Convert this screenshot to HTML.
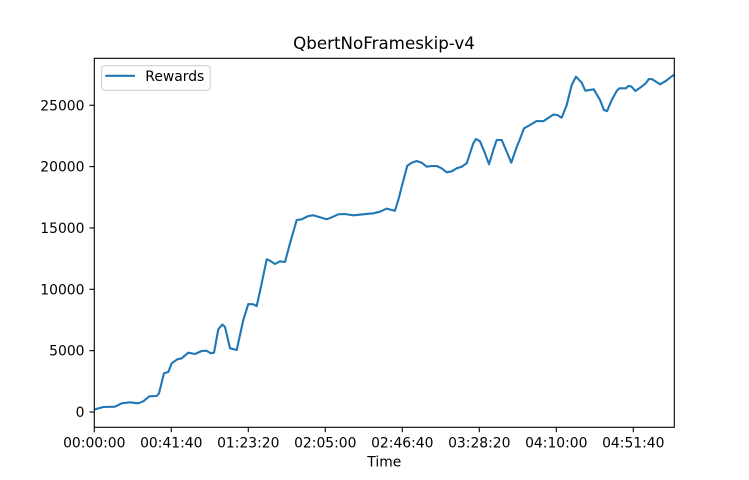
<!DOCTYPE html>
<html>
<head>
<meta charset="utf-8">
<style>
html,body{margin:0;padding:0;background:#fff;}
svg{display:block;}
text{font-family:"DejaVu Sans","Liberation Sans",sans-serif;fill:#000;}
</style>
</head>
<body>
<svg width="749" height="480" viewBox="0 0 749 480" xmlns="http://www.w3.org/2000/svg">
<rect x="0" y="0" width="749" height="480" fill="#fff"/>
<!-- data line -->
<polyline fill="none" stroke="#1f77b4" stroke-width="2.1" stroke-linejoin="round" stroke-linecap="butt" points="
94.5,409.5 103.3,407 115,406.7 121.7,403.3 130,402.3 138.3,403.3 143.3,401.3 149.3,396.3 156.7,396 159,393.3 164,373.3 168.3,372 171.7,363.3 177.3,359.3 181.7,358.3 188.3,352.7 195,354 201.7,351 206.7,350.7 210.7,353.3 214,352.7 218.3,329.3 222.3,324.5 225,327 230,348.3 236.7,350 243.3,320 248.3,304 253.3,304.3 256.7,306 261.7,283.3 266.7,259.3 270,260.7 275,264 280,261.3 285,262 290,243.3 296.7,220 301.7,219.3 308.3,216 313.3,215.3 320,217.3 326.7,219.3 331.7,217.3 338.3,214.3 345,214 353.3,215.3 363.3,214.3 373.3,213.3 380,211.7 386.7,208.6 391.7,210 395,210.7 398.3,200 401.7,186.7 407.3,165.7 411.7,162.7 416.7,161 421.7,162.7 426.7,166.7 431.7,166 436.7,166 441.7,168.3 446.7,172.3 451.7,171.3 456.7,168.3 461.7,166.7 466.7,163.3 470,153.3 473.3,143.3 476,139 480,141.3 485,153.3 489,164.3 493.3,150 496.7,140 501.7,140 506.7,151.7 511.3,162.7 516.7,147 520,139 524,128.3 530,125 536.7,121 543.3,121.2 553.3,114.6 557.3,115 561.7,117.7 566.7,105 571.7,85 576,76.7 581.7,82.7 585.3,90.7 593.8,89.3 600,100 604,110 607,111.2 611.5,100.5 616.7,91 619.3,88.3 626,88.3 628.3,86 631.3,86.4 635.4,91 640,87.8 645.8,83.3 648.8,79 652.2,79.2 660,84.3 666,80.8 670,77.7 674.3,74.5"/>
<!-- axes frame -->
<rect x="94.3" y="58.3" width="580" height="369" fill="none" stroke="#000" stroke-width="1.1"/>
<!-- y ticks -->
<g stroke="#000" stroke-width="1.1">
<line x1="89.4" y1="412" x2="94.3" y2="412"/>
<line x1="89.4" y1="350.65" x2="94.3" y2="350.65"/>
<line x1="89.4" y1="289.3" x2="94.3" y2="289.3"/>
<line x1="89.4" y1="227.95" x2="94.3" y2="227.95"/>
<line x1="89.4" y1="166.6" x2="94.3" y2="166.6"/>
<line x1="89.4" y1="105.25" x2="94.3" y2="105.25"/>
</g>
<g font-size="13.9" text-anchor="end">
<text x="84.5" y="417">0</text>
<text x="84.5" y="355.65">5000</text>
<text x="84.5" y="294.3">10000</text>
<text x="84.5" y="232.95">15000</text>
<text x="84.5" y="171.6">20000</text>
<text x="84.5" y="110.25">25000</text>
</g>
<!-- x ticks -->
<g stroke="#000" stroke-width="1.1">
<line x1="94.3" y1="427.3" x2="94.3" y2="432.2"/>
<line x1="171.3" y1="427.3" x2="171.3" y2="432.2"/>
<line x1="248.3" y1="427.3" x2="248.3" y2="432.2"/>
<line x1="325.3" y1="427.3" x2="325.3" y2="432.2"/>
<line x1="402.3" y1="427.3" x2="402.3" y2="432.2"/>
<line x1="479.3" y1="427.3" x2="479.3" y2="432.2"/>
<line x1="556.3" y1="427.3" x2="556.3" y2="432.2"/>
<line x1="633.3" y1="427.3" x2="633.3" y2="432.2"/>
</g>
<g font-size="13.9" text-anchor="middle">
<text x="94.3" y="447.6">00:00:00</text>
<text x="171.3" y="447.6">00:41:40</text>
<text x="248.3" y="447.6">01:23:20</text>
<text x="325.3" y="447.6">02:05:00</text>
<text x="402.3" y="447.6">02:46:40</text>
<text x="479.3" y="447.6">03:28:20</text>
<text x="556.3" y="447.6">04:10:00</text>
<text x="633.3" y="447.6">04:51:40</text>
</g>
<text x="384.3" y="466.7" font-size="13.9" text-anchor="middle">Time</text>
<text x="384" y="49" font-size="16.7" text-anchor="middle">QbertNoFrameskip-v4</text>
<!-- legend -->
<rect x="101.7" y="65.7" width="108.5" height="24.6" rx="2.5" ry="2.5" fill="#fff" fill-opacity="0.8" stroke="#cccccc" stroke-width="1"/>
<line x1="105.3" y1="75.8" x2="135" y2="75.8" stroke="#1f77b4" stroke-width="2.1"/>
<text x="145.3" y="80.8" font-size="13.9">Rewards</text>
</svg>
</body>
</html>
